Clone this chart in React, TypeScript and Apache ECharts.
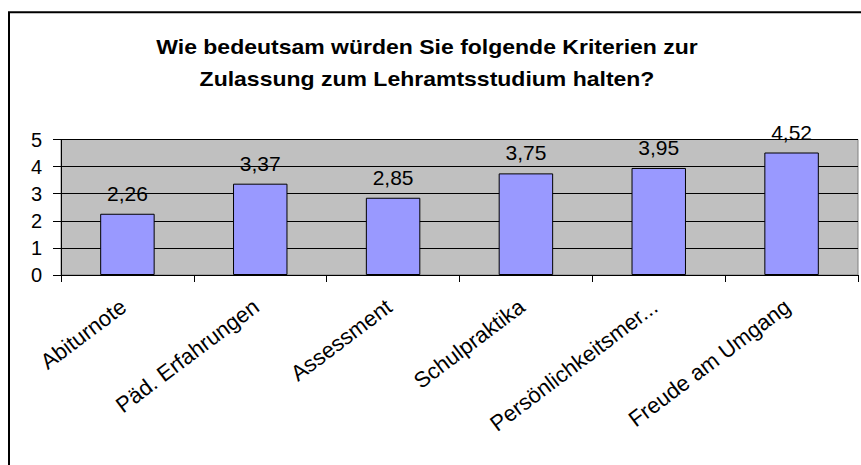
import React, { useEffect, useRef } from "react";
import * as echarts from "echarts";

const titleLines = [
  "Wie bedeutsam würden Sie folgende Kriterien zur",
  "Zulassung zum Lehramtsstudium halten?",
];
const categories = [
  "Abiturnote",
  "Päd. Erfahrungen",
  "Assessment",
  "Schulpraktika",
  "Persönlichkeitsmer...",
  "Freude am Umgang",
];
const values = [2.26, 3.37, 2.85, 3.75, 3.95, 4.52];
const yMin = 0;
const yMax = 5;
const yInterval = 1;

const FONT = '"Liberation Sans", Arial, sans-serif';

export default function App() {
  const ref = useRef<HTMLDivElement>(null);
  useEffect(() => {
    if (!ref.current) return;
    const chart = echarts.init(ref.current, null, { renderer: "svg" });
    chart.setOption({
      animation: false,
      backgroundColor: "#ffffff",
      textStyle: { fontFamily: FONT },
      graphic: [
        {
          type: "polyline",
          shape: { points: [[9, 465], [9, 12.3], [861, 12.3]] },
          style: { stroke: "#000", lineWidth: 2, fill: "none" },
          z: 10,
        },
        {
          type: "text",
          x: 427,
          y: 63,
          scaleX: 1.15,
          style: {
            text: titleLines.join("\n"),
            font: `bold 20px ${FONT}`,
            fill: "#000",
            align: "center",
            verticalAlign: "middle",
            lineHeight: 32,
          },
        },
      ],
      grid: {
        left: 61,
        right: 3,
        top: 139.5,
        bottom: 190,
        show: true,
        backgroundColor: "#C0C0C0",
        borderColor: "#808080",
        borderWidth: 1,
      },
      xAxis: {
        type: "category",
        data: categories,
        boundaryGap: true,
        axisLine: { show: true, lineStyle: { color: "#000", width: 1 } },
        axisTick: { show: true, length: 7, lineStyle: { color: "#000" } },
        axisLabel: {
          interval: 0,
          rotate: 37,
          margin: 26,
          padding: [0, 5, 0, 0],
          fontSize: 22,
          color: "#000",
          fontFamily: FONT,
        },
        splitLine: { show: false },
      },
      yAxis: {
        type: "value",
        min: yMin,
        max: yMax,
        interval: yInterval,
        axisLine: { show: true, lineStyle: { color: "#000", width: 1 } },
        axisTick: { show: true, length: 8, lineStyle: { color: "#000" } },
        axisLabel: {
          margin: 19,
          fontSize: 20,
          color: "#000",
          fontFamily: FONT,
        },
        splitLine: { show: true, lineStyle: { color: "#000", width: 1 } },
      },
      series: [
        {
          type: "bar",
          data: values,
          barWidth: "41%",
          itemStyle: { color: "#9999FF", borderColor: "#000", borderWidth: 1 },
          label: {
            show: true,
            position: "top",
            distance: 10,
            fontSize: 21,
            color: "#000",
            fontFamily: FONT,
            formatter: (p: any) => p.value.toFixed(2).replace(".", ","),
          },
        },
      ],
    });
    return () => chart.dispose();
  }, []);
  return (
    <div
      ref={ref}
      style={{ position: "absolute", left: 0, top: 0, width: 861, height: 465 }}
    />
  );
}
